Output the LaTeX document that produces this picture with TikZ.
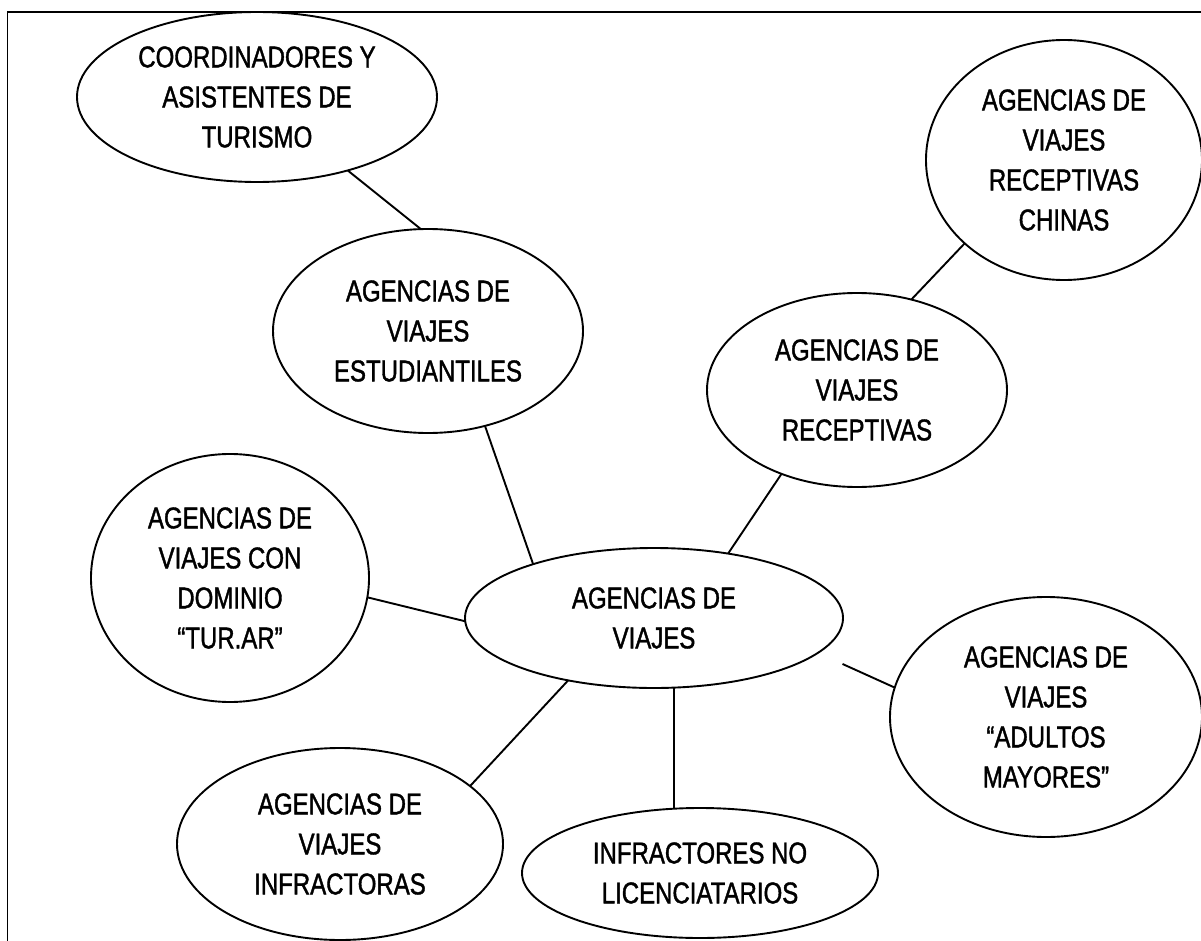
\documentclass[tikz,border=0pt]{standalone}
\usepackage{fontspec}
\setmainfont{Liberation Sans}[FakeStretch=0.8,FakeBold=1.3]
\usetikzlibrary{shapes.geometric}

\begin{document}
\begin{tikzpicture}[x=1pt,y=-1pt,line width=1.9pt,
  every node/.style={font=\fontsize{30}{40}\selectfont},
  blob/.style={ellipse,draw,inner sep=0pt,outer sep=0pt,align=center}]
\clip (0,0) rectangle (1201,941);
\draw (7.5,12) rectangle (1240,990);
% ellipses
\node[blob,minimum width=360pt,minimum height=170pt] (coord) at (257,97) {COORDINADORES Y\\ASISTENTES DE\\TURISMO};
\node[blob,minimum width=310pt,minimum height=204pt] (estud) at (428,331) {AGENCIAS DE\\VIAJES\\ESTUDIANTILES};
\node[blob,minimum width=276pt,minimum height=240pt] (china) at (1064,160) {AGENCIAS DE\\VIAJES\\RECEPTIVAS\\CHINAS};
\node[blob,minimum width=300pt,minimum height=194pt] (recep) at (857,390) {AGENCIAS DE\\VIAJES\\RECEPTIVAS};
\node[blob,minimum width=278pt,minimum height=248pt] (turar) at (230,578) {AGENCIAS DE\\VIAJES CON\\DOMINIO\\“TUR.AR”};
\node[blob,minimum width=378pt,minimum height=140pt] (hub) at (654,618) {AGENCIAS DE\\VIAJES};
\node[blob,minimum width=312pt,minimum height=240pt] (adult) at (1046,717) {AGENCIAS DE\\VIAJES\\“ADULTOS\\MAYORES”};
\node[blob,minimum width=326pt,minimum height=192pt] (infra) at (340,844) {AGENCIAS DE\\VIAJES\\INFRACTORAS};
\node[blob,minimum width=356pt,minimum height=130pt] (licen) at (700,873) {INFRACTORES NO\\LICENCIATARIOS};
% connectors
\draw (coord.-39) -- (estud.94);
\draw (estud.-59) -- (hub.156);
\draw (turar.-8) -- (hub.181);
\draw (hub.216) -- (infra.24);
\draw (hub.-74) -- (hub.-74 |- licen.north);
\draw[shorten <=27pt] (hub.-12) -- (adult.169);
\draw (hub.41) -- (recep.228);
\draw (recep.59) -- (china.220);
\end{tikzpicture}
\end{document}
